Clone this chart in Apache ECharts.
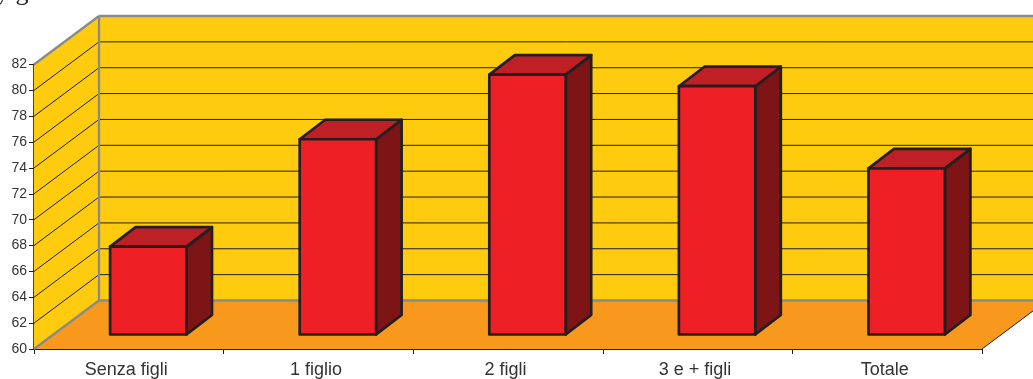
<!DOCTYPE html>
<html><head><meta charset="utf-8">
<style>html,body{margin:0;padding:0;background:#fff}#c{width:1033px;height:379px}</style>
<script src="https://cdn.jsdelivr.net/npm/echarts@6/dist/echarts.min.js"></script>
</head><body><div id="c"></div>
<script>
const categories = ['Senza figli','1 figlio','2 figli','3 e + figli','Totale'];
const values = [66.8, 75.1, 80.1, 79.2, 72.85];
const yMin = 60, yMax = 82, yStep = 2;
const clippedTitle = 'y g';
const depth = {x:65, y:-48.5};
const barOffset = {x:19.5, y:-14.5};
const barDepth = {x:25.5, y:-19.5};
const barWidthRatio = 0.403;
const gridValues = [];
for (let v = yMin + yStep; v <= yMax; v += yStep) gridValues.push(v);

const chart = echarts.init(document.getElementById('c'), null, {renderer:'canvas'});
const poly = (pts, fill, stroke, lw) => ({type:'polygon', shape:{points:pts}, style:{fill:fill, stroke:stroke||null, lineWidth:lw||0, lineJoin:'round'}});
const line = (a, b, stroke, lw) => ({type:'line', shape:{x1:a[0],y1:a[1],x2:b[0],y2:b[1]}, style:{stroke:stroke, lineWidth:lw}});
const off = (p, d) => [p[0]+d.x, p[1]+d.y];

chart.setOption({
  animation:false,
  backgroundColor:'#fff',
  graphic:[{type:'text', x:-4, y:-20, silent:true,
    style:{text:clippedTitle, fontFamily:'Liberation Serif', fontSize:26, fill:'#231f20'}}],
  grid:{left:34, right:51, top:64.5, bottom:30},
  xAxis:{type:'category', data:categories, boundaryGap:true,
    axisLine:{lineStyle:{color:'#231f20',width:1}},
    axisTick:{show:true, alignWithLabel:false, length:5, lineStyle:{color:'#231f20',width:1}},
    axisLabel:{color:'#333',fontFamily:'Liberation Sans',fontSize:18,interval:0,margin:12,
      padding:[0,5,0,0]}},
  yAxis:{type:'value', min:yMin, max:yMax, interval:yStep,
    axisLine:{show:true,lineStyle:{color:'#444',width:2}},
    axisTick:{show:true,length:5,lineStyle:{color:'#231f20',width:1}},
    splitLine:{show:false},
    axisLabel:{color:'#333',fontFamily:'Liberation Sans',fontSize:14,margin:7}},
  series:[
    {type:'custom', coordinateSystem:'cartesian2d', z:1, clip:false, silent:true,
     data:[0],
     renderItem(params, api){
       const cs = params.coordSys;
       const bl = [cs.x, cs.y+cs.height], tl=[cs.x, cs.y], br=[cs.x+cs.width, cs.y+cs.height], tr=[cs.x+cs.width, cs.y];
       const kids = [
         poly([tl, off(tl,depth), off(bl,depth), bl], '#fecb0e'),
         poly([off(tl,depth), off(tr,depth), off(br,depth), off(bl,depth)], '#fecb0e'),
         poly([bl, off(bl,depth), off(br,depth), br], '#f8991d')
       ];
       gridValues.forEach(v=>{
         if (v===yMax) return;
         const p = api.coord([0, v]); p[0]=cs.x;
         kids.push(line(p, off(p,depth), '#231f20', 1));
         kids.push(line(off(p,depth), off([br[0],p[1]],depth), '#231f20', 1));
       });
       kids.push(line(tl, off(tl,depth), '#8a8a8c', 2.3));
       kids.push(line(off(tl,depth), off(tr,depth), '#8a8a8c', 2.3));
       kids.push(line(off(tl,depth), off(bl,depth), '#8a8a8c', 2.3));
       kids.push(line(bl, off(bl,depth), '#8a8a8c', 2.3));
       kids.push(line(off(bl,depth), off(br,depth), '#8a8a8c', 2.3));
       kids.push(line(br, off(br,depth), '#231f20', 1));
       return {type:'group', children:kids};
     }},
    {type:'custom', coordinateSystem:'cartesian2d', z:2, clip:false, silent:true,
     encode:{x:0,y:1},
     data:values.map((v,i)=>[i,v]),
     renderItem(params, api){
       const i = api.value(0), v = api.value(1);
       const w = api.size([1,0])[0]*barWidthRatio;
       const c = api.coord([i,v]), b = api.coord([i,yMin]);
       const x0 = c[0]-w/2+barOffset.x, x1 = c[0]+w/2+barOffset.x;
       const t = c[1]+barOffset.y, bo = b[1]+barOffset.y;
       const S = '#231f20', L = 2.7;
       return {type:'group', children:[
         poly([[x1,t],off([x1,t],barDepth),off([x1,bo],barDepth),[x1,bo]], '#7d1416', S, L),
         poly([[x0,t],off([x0,t],barDepth),off([x1,t],barDepth),[x1,t]], '#be2026', S, L),
         poly([[x0,t],[x1,t],[x1,bo],[x0,bo]], '#ef2025', S, L)
       ]};
     }}
  ]
});
</script></body></html>
